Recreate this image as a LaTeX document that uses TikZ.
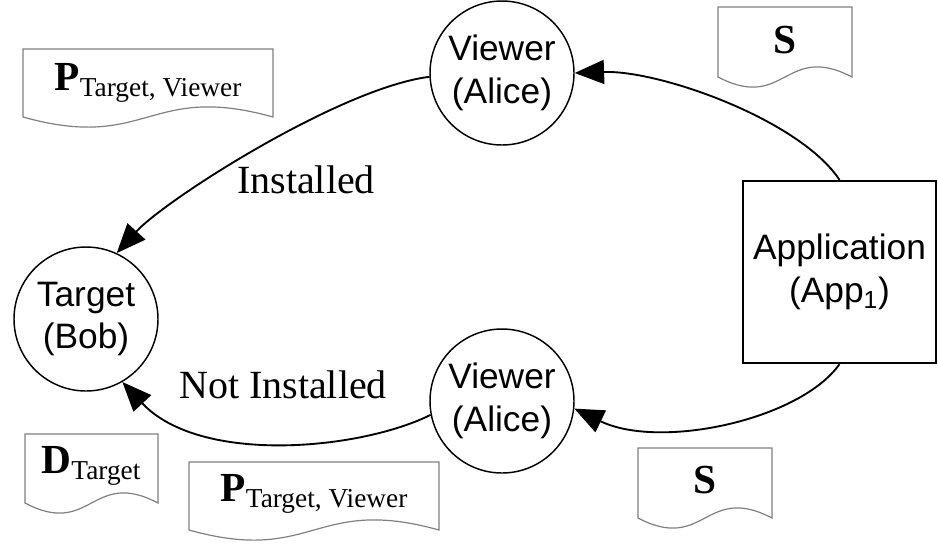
\documentclass[tikz,border=0pt]{standalone}
\usepackage{fontspec}
\setmainfont{Liberation Serif}
\setsansfont{Liberation Sans}
\usetikzlibrary{arrows.meta}

% document outline with wavy bottom: x0, y0, x1, ybottom
\newcommand{\docpath}[4]{%
  \draw [docline] (#1,#2) -- (#3,#2) -- (#3,#4)
    .. controls ({(#1+#3)/2},{#4-35}) and ({(#1+#3)/2},{#4+35}) .. (#1,#4) -- cycle;}
\newcommand{\docsub}[2]{\textbf{#1}\raisebox{-5pt}{\fontsize{20.5}{21}\selectfont #2}}

\begin{document}
\begin{tikzpicture}[x=0.75pt,y=-0.75pt,
    party/.style={draw,circle,line width=1.1pt,minimum size=108pt,inner sep=0pt,
      align=center,font=\sffamily\fontsize{26.5}{32}\selectfont},
    appbox/.style={draw,rectangle,line width=1.7pt,minimum width=144.75pt,
      minimum height=136.5pt,align=center,font=\sffamily\fontsize{26.5}{32}\selectfont},
    flow/.style={line width=1.4pt,-{Triangle[length=22pt,width=18pt]}},
    docline/.style={draw=gray,line width=0.9pt},
    doctext/.style={font=\fontsize{31}{31}\selectfont},
    lbl/.style={font=\fontsize{30}{30}\selectfont}]
  \useasboundingbox (0,0) rectangle (938,544);

  % Drawing circles for the parties
  \node [party] (tgt) at (86,319) {Target\\(Bob)};
  \node [party] (vtop) at (502,73) {Viewer\\(Alice)};
  \node [party] (vbot) at (502,401) {Viewer\\(Alice)};

  % Drawing box for the application
  \node [appbox] (app) at (839.5,272) {Application\\(App\textsubscript{1})};

  % Drawing flow over the top
  \draw [flow] (app.north) .. controls (800,120) and (660,70) .. (vtop.east);
  \draw [flow] (vtop.183) .. controls (340,88) and (165,200) .. (tgt.65);
  \node [lbl] (inst) at (306,180) {Installed};

  % Drawing flow along the bottom
  \draw [flow] (app.south) .. controls (800,420) and (660,450) .. (vbot.-6);
  \draw [flow] (vbot.191) .. controls (360,450) and (200,465) .. (tgt.-60);
  \node [lbl] (notinst) at (283,385) {Not Installed};

  % Drawing documents
  \docpath{23}{49}{273}{117}
  \node [doctext] (ptop) at (148,83) {\docsub{P}{Target, Viewer}};

  \docpath{718}{7}{852}{77}
  \node [doctext] (stop) at (785,40) {\textbf{S}};

  \docpath{25}{434}{158}{503}
  \node [doctext] (dtgt) at (91,466) {\docsub{D}{Target}};

  \docpath{189}{462}{439}{530}
  \node [doctext] (pbot) at (314,494) {\docsub{P}{Target, Viewer}};

  \docpath{638}{448}{772}{518}
  \node [doctext] (sbot) at (705,480) {\textbf{S}};
\end{tikzpicture}
\end{document}
